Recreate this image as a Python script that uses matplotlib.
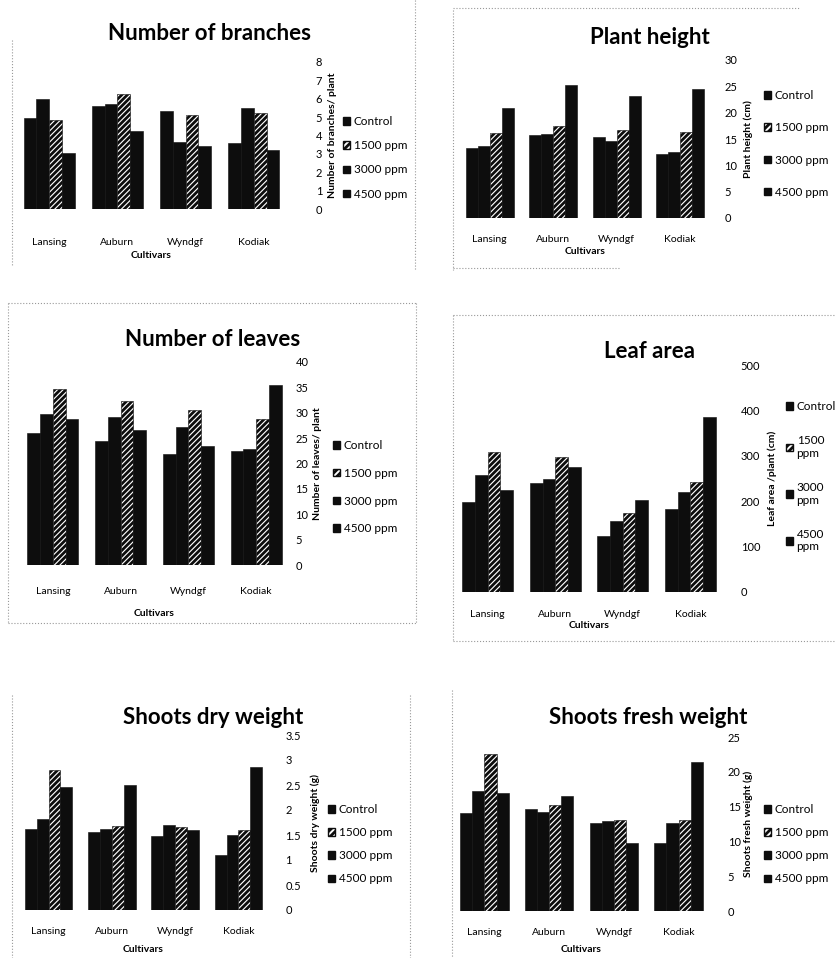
import numpy as np
import matplotlib
matplotlib.use("Agg")
import matplotlib.pyplot as plt
from matplotlib.patches import Patch
from matplotlib.lines import Line2D

plt.rcParams['font.family'] = ['Lato', 'DejaVu Sans']
plt.rcParams['hatch.linewidth'] = 2.0

cultivars = ['Lansing', 'Auburn', 'Wyndgf', 'Kodiak']
series_names = ['Control', '1500 ppm', '3000 ppm', '4500 ppm']

# Number of branches / plant
branches_control = [4.93, 5.60, 5.32, 3.61]
branches_1500 = [5.97, 5.74, 3.66, 5.52]
branches_3000 = [4.84, 6.28, 5.11, 5.20]
branches_4500 = [3.07, 4.26, 3.43, 3.21]

# Plant height (cm)
height_control = [13.2, 15.8, 15.4, 12.2]
height_1500 = [13.6, 16.0, 14.6, 12.5]
height_3000 = [16.1, 17.4, 16.8, 16.3]
height_4500 = [20.9, 25.3, 23.2, 24.5]

# Number of leaves / plant
leaves_control = [26.1, 24.4, 21.8, 22.4]
leaves_1500 = [29.8, 29.2, 27.2, 22.9]
leaves_3000 = [34.6, 32.4, 30.6, 28.8]
leaves_4500 = [28.7, 26.6, 23.4, 35.4]

# Leaf area / plant
area_control = [198, 240, 123, 182]
area_1500 = [257, 250, 157, 221]
area_3000 = [309, 298, 174, 243]
area_4500 = [224, 276, 202, 386]

# Shoots dry weight (g)
dry_control = [1.63, 1.57, 1.48, 1.11]
dry_1500 = [1.83, 1.63, 1.70, 1.50]
dry_3000 = [2.80, 1.68, 1.67, 1.60]
dry_4500 = [2.47, 2.51, 1.60, 2.87]

# Shoots fresh weight (g)
fresh_control = [14.1, 14.7, 12.7, 9.8]
fresh_1500 = [17.3, 14.2, 12.9, 12.6]
fresh_3000 = [22.5, 15.3, 13.1, 13.1]
fresh_4500 = [17.0, 16.5, 9.8, 21.4]

W, H = 837, 958
fig = plt.figure(figsize=(W / 100, H / 100), dpi=100)
INK = '#0d0d0d'


def draw_panel(series, ymax, ystep, title, ylabel, box, title_xy, ylabel_x,
               leg_xy, leg_spacing, leg_labels, ypad, xpad, cult_y, group=0.75):
    x0, x1, ytop, ybot = box
    ax = fig.add_axes([x0 / W, 1 - ybot / H, (x1 - x0) / W, (ybot - ytop) / H])
    n = len(series)
    w = group / n
    x = np.arange(len(cultivars))
    for i, vals in enumerate(series):
        if i == 2:
            ax.bar(x + (i - (n - 1) / 2) * w, vals, w, color='white', hatch='//////',
                   edgecolor=INK, linewidth=0.4)
        else:
            ax.bar(x + (i - (n - 1) / 2) * w, vals, w, color=INK, edgecolor=INK, linewidth=0.4)
    ax.set_xlim(-0.5, 3.5)
    ax.set_ylim(0, ymax)
    ticks = np.arange(0, ymax + ystep / 2, ystep)
    ax.set_yticks(ticks, [f"{t:g}" for t in ticks])
    ax.yaxis.tick_right()
    ax.tick_params(axis='y', length=0, pad=ypad, labelsize=8)
    ax.set_xticks(x, cultivars)
    ax.tick_params(axis='x', length=0, pad=xpad, labelsize=7.5)
    for s in ax.spines.values():
        s.set_visible(False)

    fig.text(title_xy[0] / W, 1 - title_xy[1] / H, title, ha='center', va='center',
             fontsize=16, fontweight='bold')
    fig.text(ylabel_x / W, 1 - (ytop + ybot) / 2 / H, ylabel, rotation=90, ha='center',
             va='center', fontsize=7.5, fontweight='bold')
    fig.text((x0 + x1) / 2 / W, 1 - cult_y / H, 'Cultivars', ha='center', va='center',
             fontsize=7.5, fontweight='bold')

    handles = [Patch(facecolor=INK, edgecolor=INK),
               Patch(facecolor='white', edgecolor=INK, hatch='/////'),
               Patch(facecolor=INK, edgecolor=INK),
               Patch(facecolor=INK, edgecolor=INK)]
    ax.legend(handles, leg_labels, loc='upper left',
              bbox_to_anchor=(leg_xy[0] / W, 1 - leg_xy[1] / H), bbox_transform=fig.transFigure,
              frameon=False, fontsize=8.5, handlelength=0.6, handleheight=0.6,
              handletextpad=0.3, labelspacing=leg_spacing, borderpad=0, borderaxespad=0)
    return ax


draw_panel([branches_control, branches_1500, branches_3000, branches_4500], 8, 1,
           'Number of branches', 'Number of branches/ plant',
           box=(15, 288, 62, 209), title_xy=(210, 33), ylabel_x=333,
           leg_xy=(343, 116), leg_spacing=1.12, leg_labels=series_names,
           ypad=20, xpad=21, cult_y=255)

draw_panel([height_control, height_1500, height_3000, height_4500], 30, 5,
           'Plant height', 'Plant height (cm)',
           box=(458, 712, 60, 218), title_xy=(650, 38), ylabel_x=748,
           leg_xy=(764, 90), leg_spacing=1.8, leg_labels=series_names,
           ypad=9, xpad=12, cult_y=251)

draw_panel([leaves_control, leaves_1500, leaves_3000, leaves_4500], 40, 5,
           'Number of leaves', 'Number of leaves/ plant',
           box=(19, 290, 362, 565), title_xy=(213, 340), ylabel_x=318,
           leg_xy=(333, 440), leg_spacing=1.42, leg_labels=series_names,
           ypad=4, xpad=16, cult_y=614)

draw_panel([area_control, area_1500, area_3000, area_4500], 500, 100,
           'Leaf area', 'Leaf area /plant (cm)',
           box=(454, 724, 365, 592), title_xy=(650, 352), ylabel_x=772,
           leg_xy=(786, 401), leg_spacing=1.95,
           leg_labels=['Control', '1500\nppm', '3000\nppm', '4500\nppm'],
           ypad=12, xpad=13, cult_y=625)

draw_panel([dry_control, dry_1500, dry_3000, dry_4500], 3.5, 0.5,
           'Shoots dry weight', 'Shoots dry weight (g)',
           box=(17, 270, 735, 910), title_xy=(213, 718), ylabel_x=315,
           leg_xy=(328, 804), leg_spacing=1.03, leg_labels=series_names,
           ypad=11, xpad=12, cult_y=949)

draw_panel([fresh_control, fresh_1500, fresh_3000, fresh_4500], 25, 5,
           'Shoots fresh weight', 'Shoots fresh weight (g)',
           box=(452, 711, 737, 911), title_xy=(648, 718), ylabel_x=748,
           leg_xy=(764, 804), leg_spacing=1.03, leg_labels=series_names,
           ypad=12, xpad=12, cult_y=949)

# faint scanned panel borders
borders = [
    ((12, 12), (40, 265)), ((415, 415), (0, 270)),
    ((453, 800), (8, 8)), ((453, 453), (10, 270)), ((453, 620), (268, 268)),
    ((8, 416), (303, 303)), ((8, 416), (623, 623)), ((8, 8), (303, 623)), ((416, 416), (303, 623)),
    ((453, 837), (315, 315)), ((453, 453), (315, 640)), ((453, 837), (641, 641)),
    ((12, 12), (695, 958)), ((410, 410), (695, 958)),
    ((452, 452), (690, 958)),
]
for xs, ys in borders:
    fig.add_artist(Line2D([x / W for x in xs], [1 - y / H for y in ys], color='#999999',
                          linestyle=':', linewidth=0.8))

fig.savefig('out.png', dpi=100)
